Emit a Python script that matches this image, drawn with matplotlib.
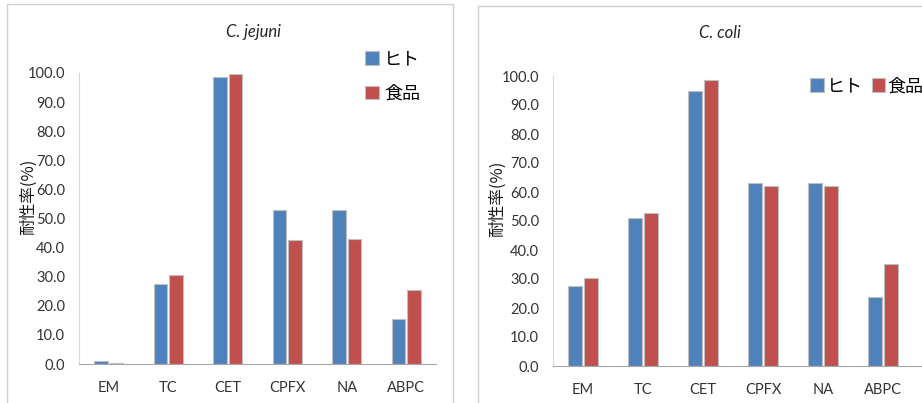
import matplotlib
matplotlib.use('Agg')
import matplotlib.pyplot as plt
import numpy as np
from matplotlib.patches import Rectangle

plt.rcParams['font.family'] = ['Lato', 'Noto Sans CJK JP', 'DejaVu Sans']

categories = ['EM', 'TC', 'CET', 'CPFX', 'NA', 'ABPC']
series_names = ['ヒト', '食品']
jejuni_human = [1.1, 27.5, 98.5, 52.9, 52.9, 15.5]
jejuni_food = [0.4, 30.7, 99.7, 42.6, 42.9, 25.5]
coli_human = [27.6, 51.1, 94.8, 63.0, 63.0, 23.9]
coli_food = [30.5, 52.6, 98.6, 62.2, 62.2, 35.1]
yticks = np.arange(0, 101, 10)

BLUE = '#4F81BD'
RED = '#C0504D'
AXIS = '#A6A6A6'
W, H = 922, 403


def px_rect(x0, x1, ytop, ybot):
    # pixel box -> figure fraction [left, bottom, width, height]
    return [x0 / W, (H - ybot) / H, (x1 - x0) / W, (ybot - ytop) / H]


def draw_panel(ax, human, food, xmax):
    x = np.arange(len(categories))
    bw = 0.23
    b1 = ax.bar(x - 0.13, human, bw, color=BLUE, edgecolor='#BFBFBF', linewidth=0.8, label=series_names[0])
    b2 = ax.bar(x + 0.13, food, bw, color=RED, edgecolor='#BFBFBF', linewidth=0.8, label=series_names[1])
    ax.set_xlim(-0.5, xmax)
    ax.set_ylim(0, 100)
    ax.set_yticks(yticks)
    ax.set_yticklabels([f'{v:.1f}' for v in yticks])
    ax.set_xticks(x)
    ax.set_xticklabels(categories)
    ax.tick_params(axis='y', length=0, pad=10, labelsize=10.5, colors='#333333')
    ax.tick_params(axis='x', length=0, pad=12, labelsize=10.5, colors='#333333')
    for s in ['top', 'right']:
        ax.spines[s].set_visible(False)
    ax.spines['left'].set_color('#D9D9D9')
    ax.spines['bottom'].set_color(AXIS)
    ax.set_ylabel('耐性率(%)', fontsize=12, family=['Noto Sans CJK JP', 'DejaVu Sans'], color='#1a1a1a')
    ax.yaxis.label.set_va('center')
    return b1, b2


fig = plt.figure(figsize=(W / 100, H / 100), dpi=100)

# panel borders
fig.patches.append(Rectangle((7 / W, -0.05), 446 / W, 1.05 - 4 / H, transform=fig.transFigure,
                             fill=False, edgecolor='#D0D0D0', linewidth=1.0))
fig.patches.append(Rectangle((478 / W, -0.05), 0.6, 1.05 - 6 / H, transform=fig.transFigure,
                             fill=False, edgecolor='#D0D0D0', linewidth=1.0))

ax1 = fig.add_axes(px_rect(79, 436, 73, 364))
h1 = draw_panel(ax1, jejuni_human, jejuni_food, 5.5)
fig.text(253 / W, 1 - 32 / H, 'C. jejuni', style='italic', fontsize=12, color='#262626',
         ha='center', va='center')
ax1.yaxis.set_label_coords(-0.143, 0.575)
ax1.legend(h1, series_names, loc='upper left', bbox_to_anchor=(358 / W, 1 - 43 / H),
           bbox_transform=fig.transFigure, frameon=False,
           prop={'family': ['Noto Sans CJK JP'], 'size': 13},
           handlelength=0.75, handleheight=0.75, handletextpad=0.3, labelspacing=0.9,
           borderaxespad=0)

ax2 = fig.add_axes(px_rect(553, 922, 76, 366))
h2 = draw_panel(ax2, coli_human, coli_food, 5.5 + 9 / 60)
fig.text(720 / W, 1 - 33 / H, 'C. coli', style='italic', fontsize=12, color='#262626',
         ha='center', va='center')
ax2.yaxis.set_label_coords(-0.15, 0.575)
ax2.legend(h2, series_names, loc='upper left', bbox_to_anchor=(803 / W, 1 - 70 / H),
           bbox_transform=fig.transFigure, frameon=False, ncol=2,
           prop={'family': ['Noto Sans CJK JP'], 'size': 13},
           handlelength=0.75, handleheight=0.75, handletextpad=0.15, columnspacing=0.5,
           borderaxespad=0)

fig.savefig('out.png', dpi=100)
